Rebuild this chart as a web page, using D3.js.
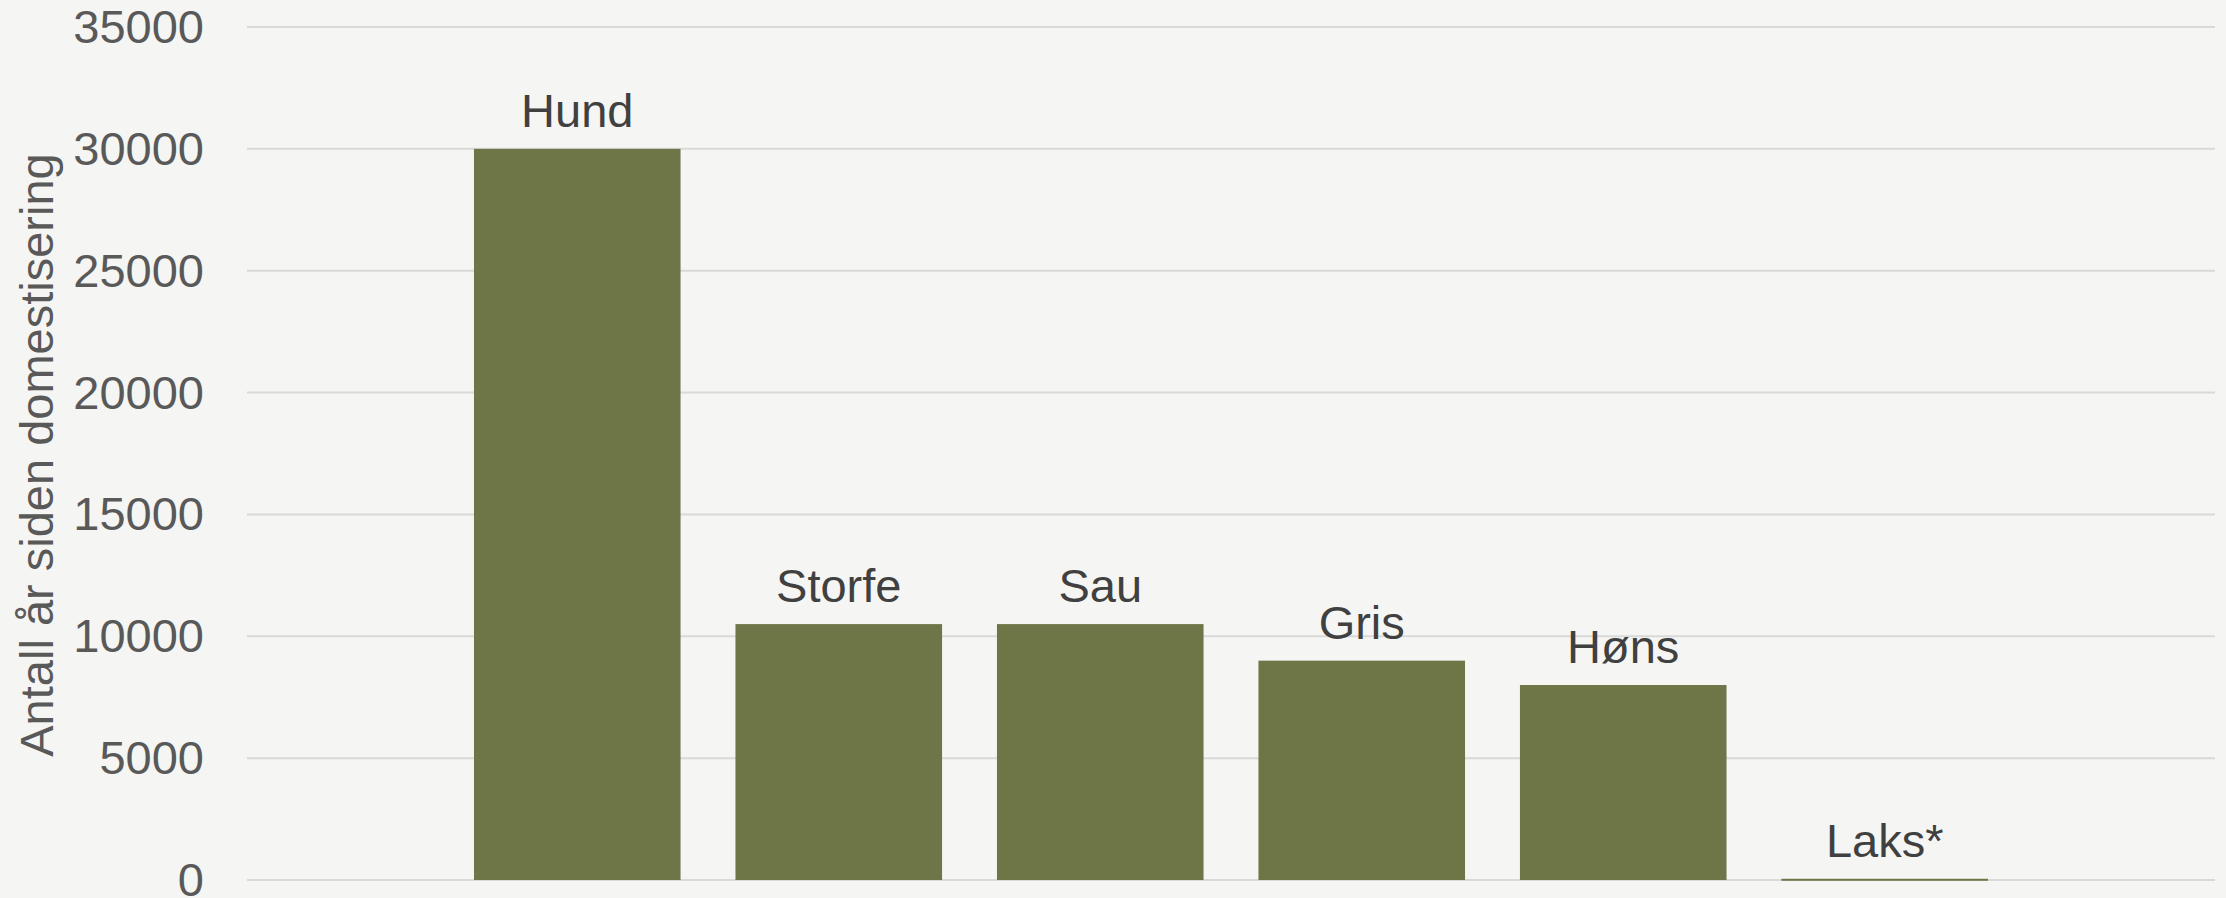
<!DOCTYPE html>
<html>
<head>
<meta charset="utf-8">
<script src="https://cdn.jsdelivr.net/npm/d3@7"></script>
<style>
  html, body { margin: 0; padding: 0; background: #f5f5f3; }
  svg { display: block; }
</style>
</head>
<body>
<svg id="chart" width="2226" height="898"></svg>
<script>
const categories = ["Hund", "Storfe", "Sau", "Gris", "Høns", "Laks*"];
const values = [30000, 10500, 10500, 9000, 8000, 50];
const yTicks = [0, 5000, 10000, 15000, 20000, 25000, 30000, 35000];
const yTitle = "Antall år siden domestisering";

const W = 2226, H = 898;
const plot = { left: 247, right: 2215, top: 27, bottom: 880 };
const svg = d3.select("#chart");
svg.append("rect").attr("width", W).attr("height", H).attr("fill", "#f5f5f3");

const x = d3.scaleBand().domain(categories).range([plot.left, plot.right])
  .paddingInner(0.21).paddingOuter(0.868);
const y = d3.scaleLinear().domain([0, 35000]).range([plot.bottom, plot.top]);

const font = "'Liberation Sans', Arial, sans-serif";

// gridlines
svg.append("g").selectAll("line").data(yTicks).join("line")
  .attr("x1", plot.left).attr("x2", plot.right)
  .attr("y1", d => y(d)).attr("y2", d => y(d))
  .attr("stroke", "#d9d9d9").attr("stroke-width", 2);

// y axis labels
const yAxis = d3.axisLeft(y).tickValues(yTicks).tickSize(0).tickPadding(0).tickFormat(d3.format("d"));
const ga = svg.append("g").attr("transform", `translate(204,0)`).call(yAxis);
ga.select(".domain").remove();
ga.selectAll("text").attr("font-family", font).attr("font-size", 47)
  .attr("fill", "#595959").attr("dy", "0.33em");

// bars
svg.append("g").selectAll("rect").data(values).join("rect")
  .attr("x", (d, i) => x(categories[i]))
  .attr("width", x.bandwidth())
  .attr("y", d => y(d))
  .attr("height", d => Math.max(2, y(0) - y(d)))
  .attr("fill", "#6e7648");

// labels
svg.append("g").selectAll("text").data(values).join("text")
  .attr("x", (d, i) => x(categories[i]) + x.bandwidth() / 2)
  .attr("y", d => y(d) - 22)
  .attr("text-anchor", "middle")
  .attr("font-family", font).attr("font-size", 47)
  .attr("fill", "#404040")
  .text((d, i) => categories[i]);

// y title
svg.append("text")
  .attr("transform", `translate(53,455) rotate(-90)`)
  .attr("text-anchor", "middle")
  .attr("font-family", font).attr("font-size", 47)
  .attr("fill", "#595959")
  .text(yTitle);
</script>
</body>
</html>
